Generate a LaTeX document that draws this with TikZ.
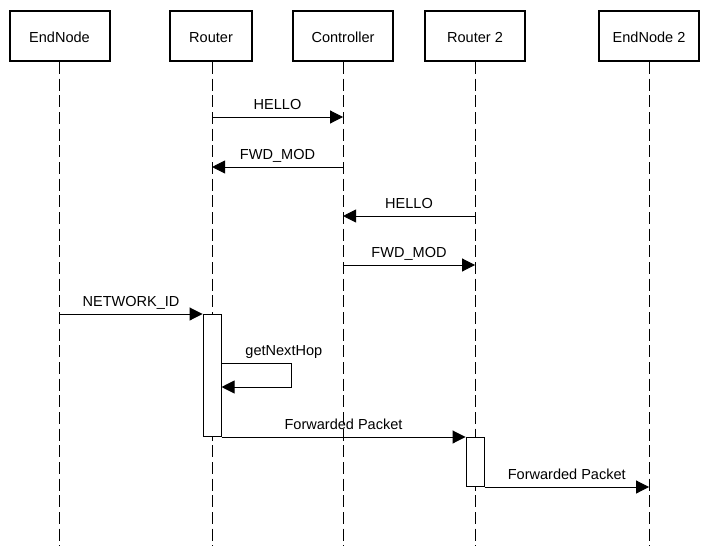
\documentclass[tikz,border=0pt]{standalone}
\usepackage{fontspec}
\setmainfont{Liberation Sans}
\usetikzlibrary{arrows.meta, positioning}

\begin{document}
\begin{tikzpicture}[
        x=0.75pt, y=-0.75pt,
        font=\fontsize{10.9}{13}\selectfont,
        node distance=1.0cm,
        actor/.style={rectangle, draw=black, line width=1.5pt, fill=white,
                      minimum width=75pt, minimum height=37.5pt, text centered,
                      text height=12.3pt, text depth=2.3pt},
        lifeline/.style={line width=0.75pt, dash pattern=on 9pt off 3.5pt},
        activation/.style={rectangle, draw=black, line width=0.75pt, fill=white,
                      minimum width=13.5pt, inner sep=0pt, anchor=north},
        msg/.style={line width=0.75pt, -{Triangle[length=9.75pt, width=9.75pt]}},
        msglabel/.style={above=5pt, inner sep=0pt, text depth=0pt}
    ]
        \useasboundingbox (0,0) rectangle (714,546);

        % participants
        \node[actor] (endnode) at (59.5,36) {EndNode};
        \node[actor, minimum width=61.5pt, right=43.9pt of endnode] (router) {Router};
        \node[actor, right=29.25pt of router] (controller) {Controller};
        \node[actor, right=22.5pt of controller] (router2) {Router 2};
        \node[actor, right=54pt of router2] (endnode2) {EndNode 2};

        % lifelines
        \coordinate (endnodeend) at (endnode |- 0,546);
        \coordinate (routerend) at ([xshift=0.75pt]router.south |- 0,546);
        \coordinate (controllerend) at (controller |- 0,546);
        \coordinate (router2end) at (router2 |- 0,546);
        \coordinate (endnode2end) at (endnode2 |- 0,546);
        \draw[lifeline] (endnode) -- (endnodeend);
        \draw[lifeline] ([xshift=0.75pt]router.south) -- (routerend);
        \draw[lifeline] (controller) -- (controllerend);
        \draw[lifeline] (router2) -- (router2end);
        \draw[lifeline] (endnode2) -- (endnode2end);

        % activations
        \node[activation, minimum height=91.5pt] (act1) at (routerend |- 0,314) {};
        \node[activation, minimum height=36.75pt] (act2) at (router2end |- act1.south) {};

        % setup messages
        \draw[msg] (routerend |- 0,117) -- node[msglabel] {HELLO} (controller |- 0,117);
        \draw[msg] (controller |- 0,167) -- node[msglabel] {FWD\_MOD} (routerend |- 0,167);
        \draw[msg] (router2 |- 0,216) -- node[msglabel] {HELLO} (controller |- 0,216);
        \draw[msg] (controller |- 0,265) -- node[msglabel] {FWD\_MOD} (router2 |- 0,265);

        % packet path
        \draw[msg] (endnode |- act1.north) -- node[msglabel] {NETWORK\_ID} (act1.north west);
        \draw[msg] (act1.east |- 0,363) -- node[msglabel, pos=0.89] {getNextHop} ++(70,0) |- (act1.east |- 0,387);
        \draw[msg] (act1.south east) -- node[msglabel] {Forwarded Packet} (act2.north west);
        \draw[msg] (act2.south east) -- node[msglabel] {Forwarded Packet} (endnode2 |- act2.south);
    \end{tikzpicture}
\end{document}
